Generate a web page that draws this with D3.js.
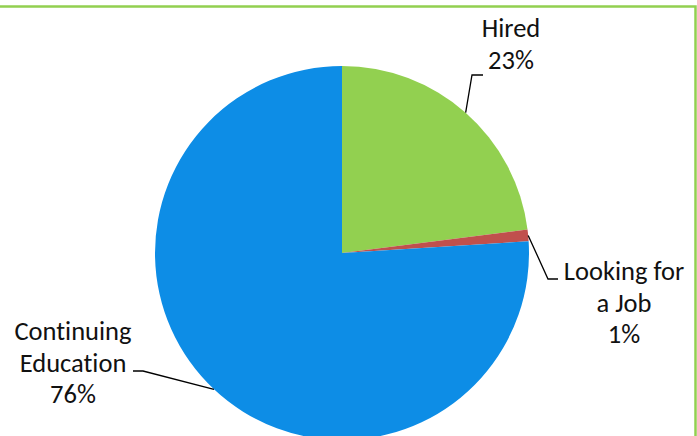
<!DOCTYPE html>
<html>
<head>
<meta charset="utf-8">
<script src="https://cdn.jsdelivr.net/npm/d3@7"></script>
<style>
  body { margin: 0; background: #fff; }
  svg { display: block; }
  text { font-variant-ligatures: none; font-feature-settings: "liga" 0; }
</style>
</head>
<body>
<div id="chart"></div>
<script>
// data
var categories = ["Hired", "Looking for a Job", "Continuing Education"];
var values = [23, 1, 76];
var labelLines = [["Hired", "23%"], ["Looking for", "a Job", "1%"], ["Continuing", "Education", "76%"]];
var colors = ["#92D050", "#C0504D", "#0D8DE6"];

var W = 697, H = 436;
var cx = 342, cy = 253, radius = 187;

// label layout: text centre x, first baseline y, and the elbow of the leader line
var labelPos = [
    { x: 511, y: 37, elbow: [472, 75], end: [483, 75] },
    { x: 624, y: 280, elbow: [548, 279], end: [558, 279] },
    { x: 73, y: 340, elbow: [143, 371], end: [133, 371] }
];
var lineHeight = 31.5;

var svg = d3.select('#chart').append('svg')
    .attr("width", W)
    .attr("height", H);

// chart border
svg.append("rect")
    .attr("x", -10)
    .attr("y", 6.5)
    .attr("width", 705.5)
    .attr("height", 500)
    .attr("fill", "none")
    .attr("stroke", "#92D050")
    .attr("stroke-width", 2.5);

var pie = d3.pie().sort(null).value(function(d) { return d; });
var arcs = pie(values);

var arc = d3.arc().innerRadius(0).outerRadius(radius);

var g = svg.append("g")
    .attr("transform", "translate(" + cx + "," + cy + ")");

g.selectAll("path")
    .data(arcs)
    .enter().append("path")
    .attr("d", arc)
    .attr("fill", function(d, i) { return colors[i]; });

// leader lines, from the arc at the slice's mid angle
svg.append("g").selectAll("polyline")
    .data(arcs)
    .enter().append("polyline")
    .attr("points", function(d, i) {
        var a = (d.startAngle + d.endAngle) / 2;
        var px = cx + Math.sin(a) * radius, py = cy - Math.cos(a) * radius;
        var p = labelPos[i];
        return [[px, py], p.elbow, p.end].map(function(q) { return q.join(","); }).join(" ");
    })
    .attr("fill", "none")
    .attr("stroke", "#000")
    .attr("stroke-width", 1.3);

// labels
var labels = svg.append("g").selectAll("text")
    .data(arcs)
    .enter().append("text")
    .attr("font-family", "Carlito, Calibri, Lato, sans-serif")
    .attr("font-size", "26.5px")
    .attr("fill", "#111")
    .attr("text-anchor", "middle");

labels.each(function(d, i) {
    var t = d3.select(this);
    labelLines[i].forEach(function(s, j) {
        t.append("tspan")
            .attr("x", labelPos[i].x)
            .attr("y", labelPos[i].y + j * lineHeight)
            .text(s);
    });
});
</script>
</body>
</html>
